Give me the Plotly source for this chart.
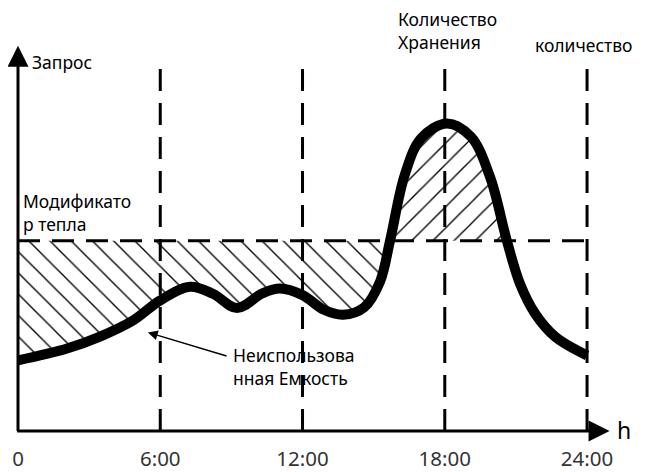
import plotly.graph_objects as go

# ---- data ----
hours = [0, 2.07, 3.46, 4.85, 6.0, 7.25, 8.22, 9.24, 10.3, 11.05, 12.0, 12.9, 13.71,
         14.6, 15.27, 15.69, 16.32, 17.0, 18.09, 19.1, 19.91, 20.62, 21.17, 21.81,
         22.65, 24.0]
demand = [20.3, 23.7, 27.1, 31.7, 37.5, 41.4, 39.4, 35.3, 39.5, 40.9, 39.0, 34.8, 33.4,
          35.5, 42.9, 54.6, 73.7, 84.0, 88.3, 84.5, 72.9, 54.6, 42.3, 33.7,
          27.1, 21.7]
heat_level = 54.6             # "Модификатор тепла" dashed level
cross_hours = [15.69, 20.62]  # where demand meets the heat level
marker_hours = [6, 12, 18, 24]
tick_vals = [0, 6, 12, 18, 24]
tick_text = ["0", "6:00", "12:00", "18:00", "24:00"]
vline_top = 107.1

FONT = "Noto Sans"

fig = go.Figure()

pattern_common = dict(fgcolor="black", fgopacity=1, bgcolor="rgba(0,0,0,0)", size=15, solidity=0.09)

# hatched region 1: unused capacity (below heat level)
seg1_x = [h for h in hours if h <= cross_hours[0]]
seg1_y = [d for h, d in zip(hours, demand) if h <= cross_hours[0]]
fig.add_trace(go.Scatter(x=[0, cross_hours[0]], y=[heat_level, heat_level], mode="lines",
                         line=dict(width=0, color="rgba(0,0,0,0)"), hoverinfo="skip",
                         showlegend=False))
fig.add_trace(go.Scatter(x=seg1_x, y=seg1_y, mode="lines", line=dict(width=0, shape="spline"),
                         fill="tonexty", fillcolor="rgba(0,0,0,0)",
                         fillpattern=dict(shape="\\", **pattern_common),
                         hoverinfo="skip", showlegend=False))

# hatched region 2: storage (above heat level)
seg2_x = [h for h in hours if cross_hours[0] <= h <= cross_hours[1]]
seg2_y = [d for h, d in zip(hours, demand) if cross_hours[0] <= h <= cross_hours[1]]
fig.add_trace(go.Scatter(x=cross_hours, y=[heat_level, heat_level], mode="lines",
                         line=dict(width=0, color="rgba(0,0,0,0)"), hoverinfo="skip",
                         showlegend=False))
fig.add_trace(go.Scatter(x=seg2_x, y=seg2_y, mode="lines", line=dict(width=0, shape="spline"),
                         fill="tonexty", fillcolor="rgba(0,0,0,0)",
                         fillpattern=dict(shape="/", **pattern_common),
                         hoverinfo="skip", showlegend=False))

# horizontal dashed level
fig.add_trace(go.Scatter(x=[0, 24], y=[heat_level, heat_level], mode="lines",
                         line=dict(color="black", width=3, dash="22px,12px"),
                         hoverinfo="skip", showlegend=False))

# vertical dashed lines
vx, vy = [], []
for h in marker_hours:
    vx += [h, h, None]
    vy += [0, vline_top, None]
fig.add_trace(go.Scatter(x=vx, y=vy, mode="lines",
                         line=dict(color="black", width=3, dash="22px,12px"),
                         hoverinfo="skip", showlegend=False))

# demand curve
fig.add_trace(go.Scatter(x=hours, y=demand, mode="lines",
                         line=dict(color="black", width=10, shape="spline"),
                         hoverinfo="skip", showlegend=False))

ann = []
# axes arrows
ann.append(dict(x=0, y=110.6, ax=0, ay=-0.4, xref="x", yref="y", axref="x", ayref="y",
                showarrow=True, arrowhead=2, arrowsize=1.4, arrowwidth=3, arrowcolor="black", text=""))
ann.append(dict(x=24.95, y=0, ax=-0.1, ay=0, xref="x", yref="y", axref="x", ayref="y",
                showarrow=True, arrowhead=2, arrowsize=1.4, arrowwidth=3, arrowcolor="black", text=""))
# pointer arrow
ann.append(dict(x=5.48, y=28.3, ax=8.86, ay=21.4, xref="x", yref="y", axref="x", ayref="y",
                showarrow=True, arrowhead=2, arrowsize=1.3, arrowwidth=1.5, arrowcolor="black", text=""))

txt_font = dict(family=FONT, size=17.5, color="black")
ann.append(dict(x=0.5, y=106, xref="x", yref="y", text="Запрос", showarrow=False,
                xanchor="left", yanchor="middle", align="left", font=txt_font))
ann.append(dict(x=0.12, y=62.6, xref="x", yref="y", text="Модификато<br>р тепла", showarrow=False,
                xanchor="left", yanchor="middle", align="left", font=txt_font))
ann.append(dict(x=15.95, y=114.9, xref="x", yref="y", text="Количество<br>Хранения", showarrow=False,
                xanchor="left", yanchor="middle", align="left", font=txt_font))
ann.append(dict(x=23.83, y=110.9, xref="x", yref="y", text="количество", showarrow=False,
                xanchor="center", yanchor="middle", align="center", font=txt_font))
ann.append(dict(x=9.0, y=18.6, xref="x", yref="y", text="Неиспользова<br>нная Емкость", showarrow=False,
                xanchor="left", yanchor="middle", align="left", font=txt_font))
ann.append(dict(x=25.55, y=0.3, xref="x", yref="y", text="h", showarrow=False,
                xanchor="center", yanchor="middle", font=dict(family=FONT, size=23, color="black")))

# page body adds an 8px offset, so the figure is sized to fill the remaining window
fig.update_layout(
    width=641, height=464,
    margin=dict(l=0, r=0, t=0, b=39),
    paper_bgcolor="white", plot_bgcolor="white",
    annotations=ann,
    xaxis=dict(range=[-0.4218, 26.613], showgrid=False, zeroline=False, showline=False,
               tickvals=tick_vals, ticktext=tick_text, ticks="",
               tickfont=dict(family=FONT, size=20.5, color="#333"), ticklabelstandoff=13),
    yaxis=dict(range=[0, 121.43], visible=False),
)

fig.write_html("out.html")
